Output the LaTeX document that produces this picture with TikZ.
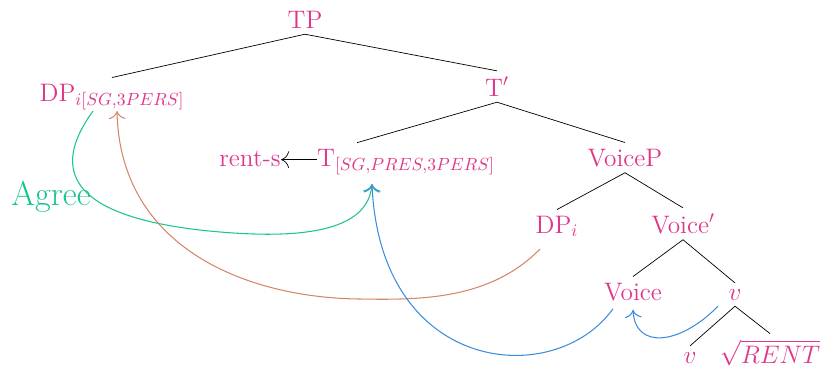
\documentclass[tikz,border=0pt]{standalone}
\usepackage{tikz}
\usepackage{xcolor}
\usetikzlibrary{arrows.meta, calc}
\definecolor{catpink}{HTML}{E0368A}
\definecolor{agreeGreen}{HTML}{19C490}
\definecolor{moveOrange}{HTML}{D4866A}
\definecolor{headBlue}{HTML}{3A8DDE}
\tikzset{
  cat/.style = {anchor=base, text=catpink, font=\Large},
  catTight/.style = {cat, inner xsep=0pt},
  branch/.style = {draw=black, thin},
  agreeArr/.style = {-{To[length=1.6mm]}, draw=agreeGreen, semithick},
  dpArr/.style = {-{To[length=1.6mm]}, draw=moveOrange, semithick},
  headArr/.style = {-{To[length=1.6mm]}, draw=headBlue, semithick},
  affixArr/.style = {-{To[length=1.6mm]}, draw=black, thin},
}

\begin{document}
\begin{tikzpicture}[x=0.02cm, y=-0.02cm]
\useasboundingbox (0,0) rectangle (824,370);

% tree labels
\node[cat] (tp) at (305,28) {TP};
\node[cat] (dpSpec) at (112,101) {DP$_{i[SG,3PERS]}$};
\node[cat] (tbar) at (497,96) {T$'$};
\node[catTight] (rents) at (250,166) {rent-s};
\node[catTight] (tsub) at (406,166) {T$_{[SG,PRES,3PERS]}$};
\node[cat] (voiceP) at (625,166) {VoiceP};
\node[cat] (dpI) at (557,233) {DP$_i$};
\node[cat] (voiceBar) at (683,233) {Voice$'$};
\node[cat] (voice) at (633,300) {Voice};
\node[cat] (vLow) at (735,300) {$v$};
\node[cat] (vHead) at (690,363) {$v$};
\node[cat] (root) at (770,363) {$\sqrt{RENT}$};
\node[anchor=base, text=agreeGreen, font=\fontsize{19.5}{23}\selectfont] (agreeLbl) at (51,205) {Agree};

% branches
\draw[branch] (tp.south) -- (dpSpec.north);
\draw[branch] (tp.south) -- (tbar.north);
\draw[branch] (tbar.south) -- ($(rents.west |- tsub.north)!0.5!(tsub.north east)$);
\draw[branch] (tbar.south) -- (voiceP.north);
\draw[branch] (voiceP.south) -- (dpI.north);
\draw[branch] (voiceP.south) -- (voiceBar.north);
\draw[branch] (voiceBar.south) -- (voice.north);
\draw[branch] (voiceBar.south) -- (vLow.north);
\draw[branch] (vLow.south) -- (vHead.north);
\draw[branch] (vLow.south) -- (root.north);

% affix
\draw[affixArr] ([yshift=3.6pt]tsub.base west) -- ([yshift=3.6pt]rents.base east);

% agree and movement
\draw[agreeArr] ($(dpSpec.south)+(-19,-5)$) .. controls (50,170) and (70,215) .. (200,230)
  .. controls (300,241) and (368,232) .. ($(tsub.south)+(-34,3)$);
\draw[dpArr] ($(dpI.south)+(-17,6)$) .. controls (490,300) and (420,300) .. (360,299)
  .. controls (250,298) and (120,250) .. ($(dpSpec.south)+(5,-5)$);
\draw[headArr] ($(voice.south)+(-20,2)$) .. controls (555,390) and (380,375) .. ($(tsub.south)+(-34,3)$);
\draw[headArr] ($(vLow.south)+(-17,0)$) .. controls (680,345) and (635,350) .. ($(voice.south)+(0,3)$);

\end{tikzpicture}
\end{document}
